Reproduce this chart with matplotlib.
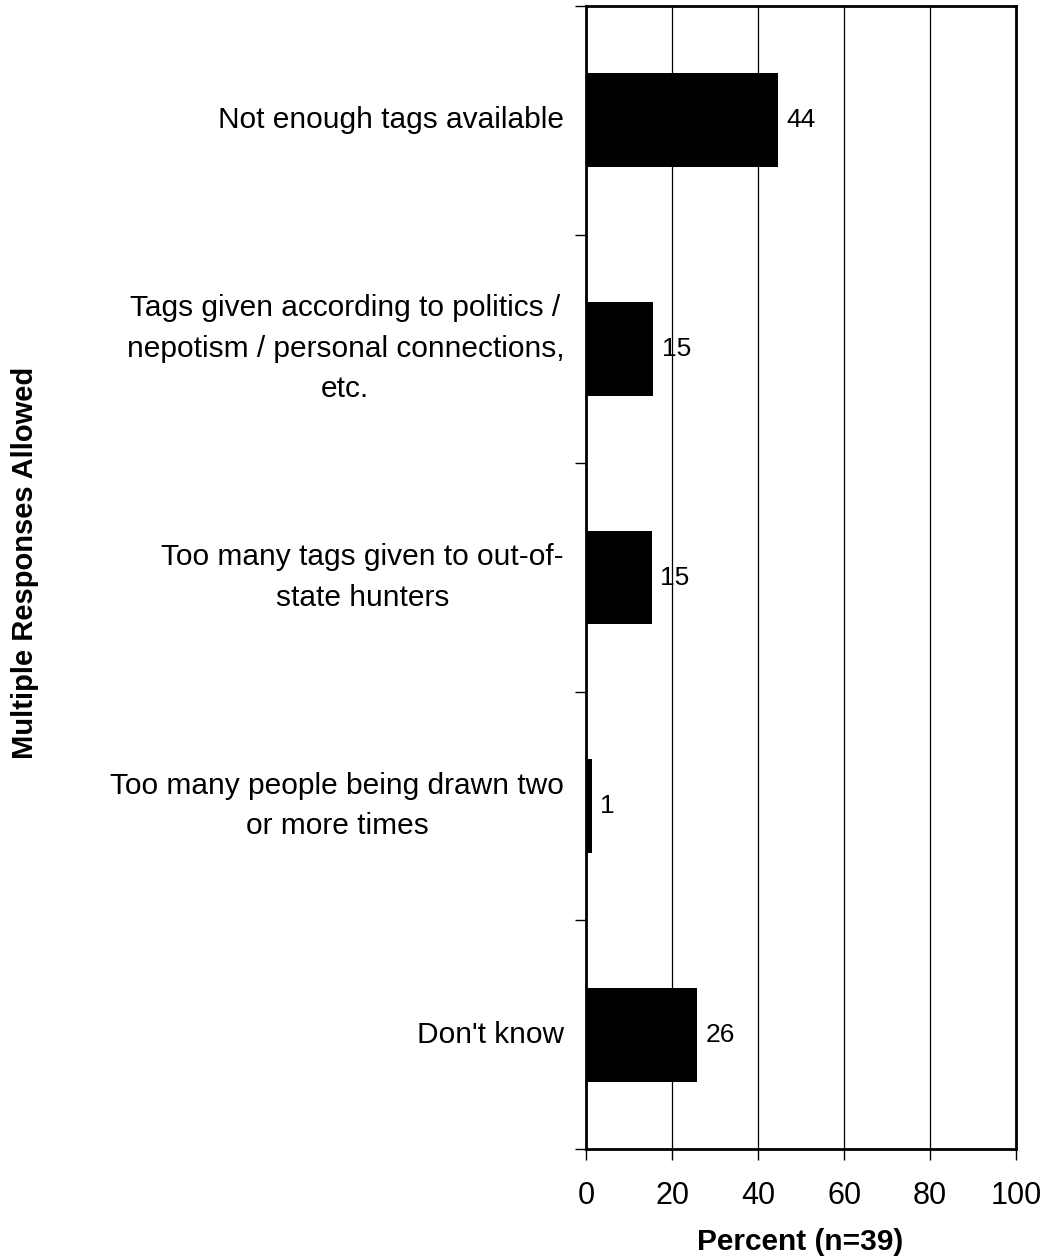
import matplotlib.pyplot as plt
import numpy as np

plt.rcParams["font.family"] = ["Liberation Sans", "DejaVu Sans"]

categories = ["Not enough tags available",
              "Tags given according to politics /\nnepotism / personal connections,\netc.",
              "Too many tags given to out-of-\nstate hunters",
              "Too many people being drawn two\nor more times",
              "Don't know"]
values = [44.7, 15.6, 15.2, 1.3, 25.8]
value_labels = ["44", "15", "15", "1", "26"]
x_ticks = [0, 20, 40, 60, 80, 100]

fs = 21.5

fig = plt.figure(figsize=(10.45, 12.6), dpi=100)
ax = fig.add_axes([0.5612, 0.0881, 0.4110, 0.9071])

y = np.arange(len(categories))
ax.barh(y, values, height=0.41, color="black", zorder=3)
for yy, v, lab in zip(y, values, value_labels):
    ax.text(v + 1.9, yy, lab, va="center", ha="left", fontsize=19, zorder=4)

ax.set_xlim(0, 100)
ax.set_ylim(len(categories) - 0.5, -0.5)
ax.set_xticks(x_ticks)
ax.set_xticklabels([str(t) for t in x_ticks], fontsize=22)
ax.xaxis.grid(True, color="black", linewidth=0.9, zorder=1)

ax.set_yticks(np.arange(-0.5, len(categories), 1.0))
ax.set_yticklabels([])
ax.tick_params(axis="both", direction="out", length=8, width=1, color="black")
ax.tick_params(axis="x", pad=15)

for k, cat in enumerate(categories):
    ax.text(-5.2, k, cat, ha="right", va="center",
            multialignment="center", fontsize=fs, linespacing=1.57)

for s in ax.spines.values():
    s.set_linewidth(2)
    s.set_color("black")

fig.text(0.766, 0.003, "Percent (n=39)", ha="center", va="bottom",
         fontsize=fs, fontweight="bold")
fig.text(0.024, 0.553, "Multiple Responses Allowed", ha="center", va="center",
         rotation=90, fontsize=21, fontweight="bold")

fig.savefig("out.png", dpi=100)
